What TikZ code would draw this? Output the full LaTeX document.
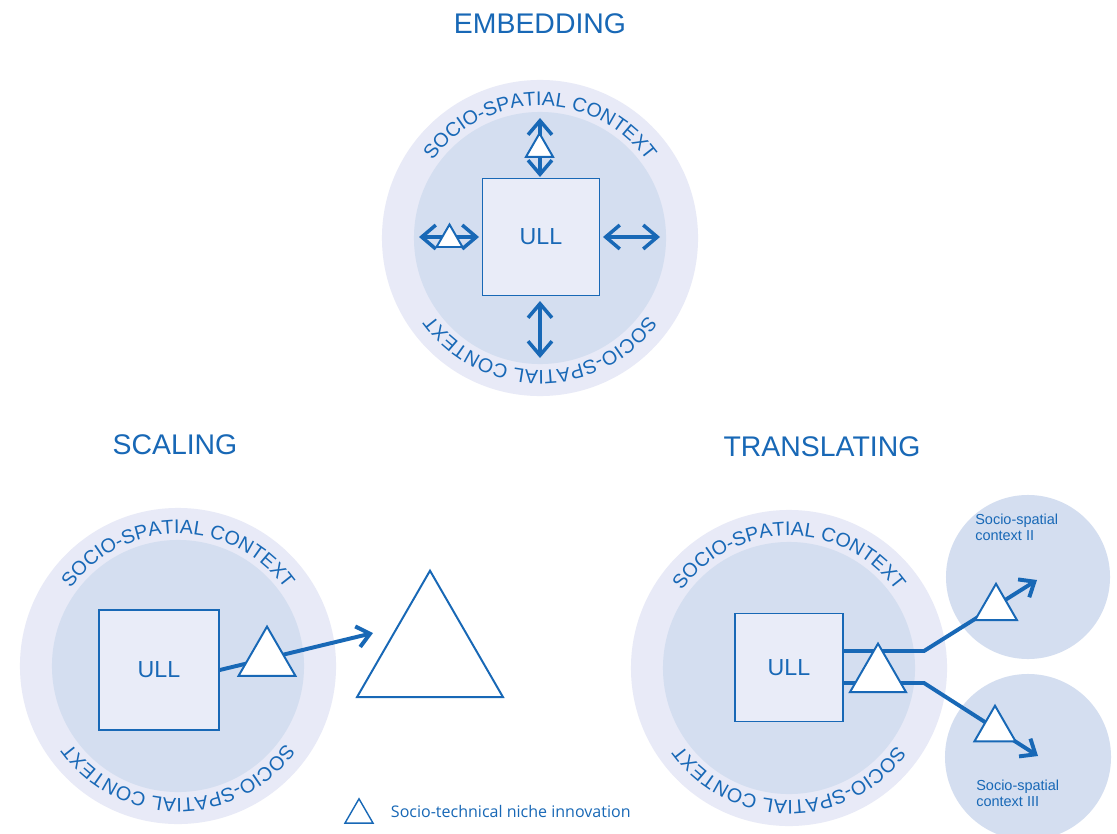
\documentclass[tikz,border=0pt]{standalone}
\usepackage{fontspec}
\setmainfont{Liberation Sans}
\newfontfamily\legendfont{Open Sans}
\usetikzlibrary{arrows.meta,shapes.geometric,decorations.text}
\definecolor{ullblue}{RGB}{24,104,182}
\definecolor{ringlight}{RGB}{232,234,247}
\definecolor{ringdark}{RGB}{212,222,240}
\definecolor{boxfill}{RGB}{233,236,248}
\newcommand\ctxfont{\fontsize{14}{16}\selectfont}

\begin{document}
\begin{tikzpicture}[x=0.025cm,y=-0.025cm,
    heading/.style={text=ullblue,font=\fontsize{20.2}{24}\selectfont},
    ctxouter/.style={circle,fill=ringlight,minimum size=7.9cm,inner sep=0},
    ctxinner/.style={circle,fill=ringdark,minimum size=6.3cm,inner sep=0},
    smallctx/.style={circle,fill=ringdark,inner sep=0},
    ctxlabel/.style={text=ullblue,font=\fontsize{10.3}{11.5}\selectfont,align=left,inner sep=0,anchor=north west},
    ullbox/.style={draw=ullblue,line width=1.1pt,fill=boxfill,text=ullblue,font=\fontsize{16.5}{19}\selectfont,inner sep=0},
    niche/.style={regular polygon,regular polygon sides=3,draw=ullblue,fill=white,line width=1.4pt,inner sep=0},
    conn/.style={draw=ullblue,line width=2.8pt,-{Straight Barb[length=9pt,width=15pt]}},
    twoway/.style={draw=ullblue,line width=2.5pt,{Straight Barb[length=10pt,width=17pt]}-{Straight Barb[length=10pt,width=17pt]}}]

  \fill[white] (0,0) rectangle (1117,834);
  \useasboundingbox (0,0) rectangle (1117,834);

  % embedding
  \begin{scope}
    \node[heading] (embtitle) at (540,24) {EMBEDDING};
    \node[ctxouter] (eo) at (540,238) {};
    \node[ctxinner] (ei) at (540,238) {};
    \node[ullbox,minimum size=2.925cm] (ull1) at (541,237) {ULL};

    \coordinate (et1) at (540,118);
    \coordinate (et2) at (540,177);
    \coordinate (eb1) at (540,301);
    \coordinate (eb2) at (540,358);
    \coordinate (el1) at (419,237);
    \coordinate (el2) at (479,237);
    \coordinate (er1) at (603,237);
    \coordinate (er2) at (660,237);
    \draw[twoway] (et1) -- (et2);
    \draw[twoway] (eb1) -- (eb2);
    \draw[twoway] (el1) -- (el2);
    \draw[twoway] (er1) -- (er2);

    \node[niche,minimum size=0.78cm] (en1) at (539.5,149) {};
    \node[niche,minimum size=0.75cm] (en2) at (449.5,239.5) {};
  \end{scope}

  % scaling
  \begin{scope}
    \node[heading] (scatitle) at (175,445) {SCALING};
    \node[ctxouter] (so) at (178,666) {};
    \node[ctxinner] (si) at (178,666) {};
    \node[ullbox,minimum size=3cm] (ull2) at (159,670) {ULL};

    \coordinate (stip) at (373,633);
    \draw[conn] (ull2.east) -- (stip);

    \node[niche,minimum size=1.645cm] (sn1) at (267,659.5) {};
    \node[niche,minimum size=4.215cm] (sn2) at (430,655) {};
  \end{scope}

  % translating
  \begin{scope}
    \node[heading] (tratitle) at (822,447) {TRANSLATING};
    \node[ctxouter] (to) at (789,668) {};
    \node[ctxinner] (ti) at (789,668) {};
    \node[smallctx,minimum size=4.1cm] (tc2) at (1028,577) {};
    \node[smallctx,minimum size=4.15cm] (tc3) at (1028,757) {};
    \node[ctxlabel] (tl2) at (975,514) {Socio-spatial\\context II};
    \node[ctxlabel] (tl3) at (976,780) {Socio-spatial\\context III};
    \node[ullbox,minimum size=2.7cm] (ull3) at (789,667.5) {ULL};

    \coordinate (bu) at (924,651);
    \coordinate (tu) at (1037,580);
    \coordinate (bd) at (924,683);
    \coordinate (td) at (1038,756);
    \draw[conn] (ull3.east |- bu) -- (bu) -- (tu);
    \draw[conn] (ull3.east |- bd) -- (bd) -- (td);

    \node[niche,minimum size=1.62cm] (tn1) at (878,676) {};
    \node[niche,minimum size=1.21cm] (tn2) at (996,608) {};
    \node[niche,minimum size=1.19cm] (tn3) at (995,729.5) {};
  \end{scope}

  \foreach \c in {eo,so,to}{
    \begin{scope}[shift={(\c.center)},x=0.025cm,y=0.025cm]
      \path[decorate,decoration={text along path,text align=center,text color=ullblue,
        text={|\ctxfont|SOCIO-SPATIAL CONTEXT}}] (160:132) arc[start angle=160,end angle=20,radius=132];
      \path[decorate,decoration={text along path,text align=center,text color=ullblue,
        text={|\ctxfont|SOCIO-SPATIAL CONTEXT}}] (-20:132) arc[start angle=-20,end angle=-160,radius=132];
    \end{scope}
  }

  % legend
  \node[niche,line width=1pt,minimum size=0.81cm] (key) at (359,815) {};
  \node[anchor=west,text=ullblue,font=\legendfont\fontsize{11.4}{13}\selectfont] (keytext) at (386,811) {Socio-technical niche innovation};
\end{tikzpicture}
\end{document}
